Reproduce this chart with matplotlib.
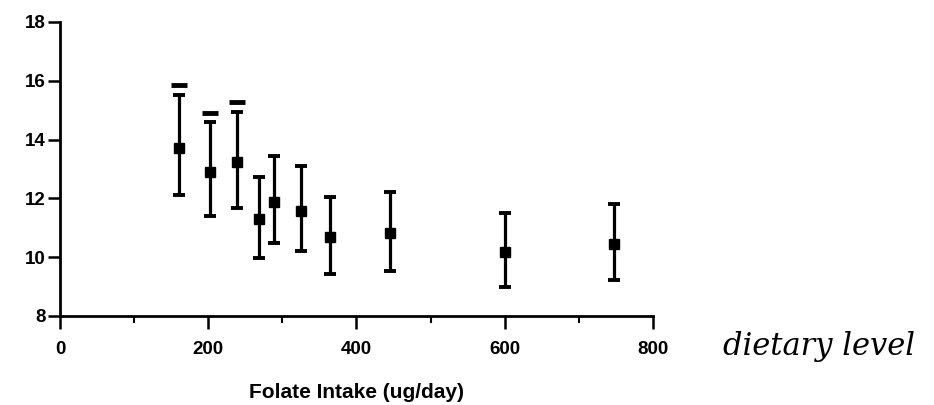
import matplotlib.pyplot as plt
from matplotlib.ticker import MultipleLocator

# folate intake groups (ug/day) and mean values with error bounds
intake = [160, 202, 239, 268, 289, 325, 364, 445, 600, 748]
mean_val = [13.71, 12.91, 13.25, 11.29, 11.89, 11.58, 10.68, 10.83, 10.19, 10.45]
upper = [15.52, 14.59, 14.95, 12.74, 13.44, 13.10, 12.06, 12.21, 11.49, 11.80]
lower = [12.12, 11.40, 11.66, 9.96, 10.49, 10.22, 9.42, 9.54, 8.98, 9.22]
# extra marks drawn above the first three bars
extra_x = [160, 202, 239]
extra_y = [15.86, 14.89, 15.27]

err_lo = [m - l for m, l in zip(mean_val, lower)]
err_hi = [u - m for m, u in zip(mean_val, upper)]

fig = plt.figure(figsize=(9.34, 4.05), dpi=100)
ax = fig.add_axes([0.0642, 0.2198, 0.6349, 0.7259])

ax.errorbar(intake, mean_val, yerr=[err_lo, err_hi], fmt='s', color='black',
            ms=6.5, elinewidth=2.3, capsize=4, capthick=2.8)
ax.plot(extra_x, extra_y, '_', color='black', ms=11, mew=3.5)

ax.set_xlim(0, 800)
ax.set_ylim(8, 18)
ax.set_xticks([0, 200, 400, 600, 800])
ax.set_yticks([8, 10, 12, 14, 16, 18])
ax.xaxis.set_minor_locator(MultipleLocator(100))

for s in ['top', 'right']:
    ax.spines[s].set_visible(False)
for s in ['left', 'bottom']:
    ax.spines[s].set_linewidth(2)

ax.tick_params(axis='both', which='major', direction='out', length=9, width=1.8,
               labelsize=13.5)
ax.tick_params(axis='x', which='major', pad=9)
ax.tick_params(axis='y', which='major', pad=1.5)
ax.tick_params(axis='x', which='minor', direction='out', length=5, width=1.5)
for lab in ax.get_xticklabels() + ax.get_yticklabels():
    lab.set_fontfamily('Liberation Sans')
    lab.set_fontweight('bold')

ax.set_xlabel('Folate Intake (ug/day)', fontsize=15, fontfamily='Liberation Sans',
              fontweight='bold', labelpad=18)

fig.text(0.774, 0.123, 'dietary level', fontsize=22, fontstyle='italic',
         fontfamily='DejaVu Serif', color='black', va='baseline')

fig.savefig('out.png', dpi=100)
